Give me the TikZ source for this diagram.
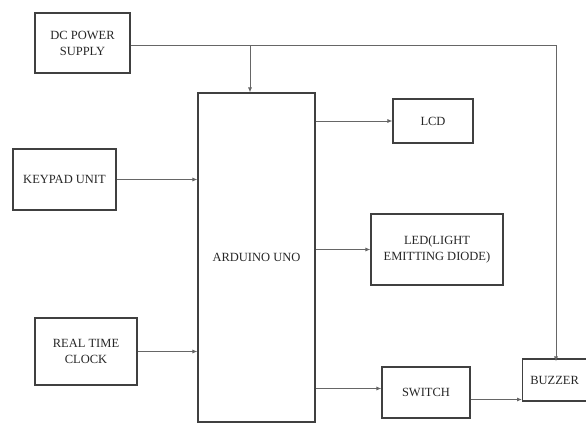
\documentclass[tikz,border=0pt]{standalone}
\usepackage{fontspec}
\setmainfont{Liberation Serif}
\usetikzlibrary{arrows.meta}
\begin{document}
\begin{tikzpicture}[x=1pt,y=-1pt,
  blk/.style={draw=black!75,line width=1.1pt,inner sep=0pt,align=center,
    text=black!85,font=\fontsize{12.5}{16}\selectfont},
  conn/.style={draw=black!60,line width=0.8pt,-{Latex[length=5pt,width=4pt]}},
  wire/.style={draw=black!60,line width=0.8pt}]
\useasboundingbox (0,0) rectangle (586,423);
\node[blk,minimum width=95pt,minimum height=60pt] (dc) at (82.5,43) {DC POWER\\SUPPLY};
\node[blk,minimum width=117pt,minimum height=329pt] (ard) at (256.5,257.5) {ARDUINO UNO};
\node[blk,minimum width=103pt,minimum height=61pt] (key) at (64.5,179.5) {KEYPAD UNIT};
\node[blk,minimum width=102pt,minimum height=67pt] (rtc) at (86,351.5) {REAL TIME\\CLOCK};
\node[blk,minimum width=80pt,minimum height=44pt] (lcd) at (433,121) {LCD};
\node[blk,minimum width=132pt,minimum height=71pt] (led) at (437,249.5) {LED(LIGHT\\EMITTING DIODE)};
\node[blk,minimum width=88pt,minimum height=51pt] (sw) at (426,392.5) {SWITCH};
\node[blk,minimum width=64pt,minimum height=42pt,anchor=west] (bz) at (522,380) {BUZZER};
\coordinate (j1) at (250,45);
\coordinate (j2) at (556,45);
\draw[wire] (dc.east |- j1) -- (j2);
\draw[conn] (j1) -- (j1 |- ard.north);
\draw[conn] (j2) -- ([yshift=-3pt]j2 |- bz.north);
\draw[conn] (key.east) -- (key.east -| ard.west);
\draw[conn] (rtc.east) -- (rtc.east -| ard.west);
\draw[conn] (ard.east |- lcd.west) -- (lcd.west);
\draw[conn] (ard.east |- led.west) -- (led.west);
\draw[conn] ([yshift=4pt]ard.east |- sw.west) -- ([yshift=4pt]sw.west);
\draw[conn] ([yshift=-7pt]sw.east) -- ([yshift=-7pt]sw.east -| bz.west);
\end{tikzpicture}
\end{document}
